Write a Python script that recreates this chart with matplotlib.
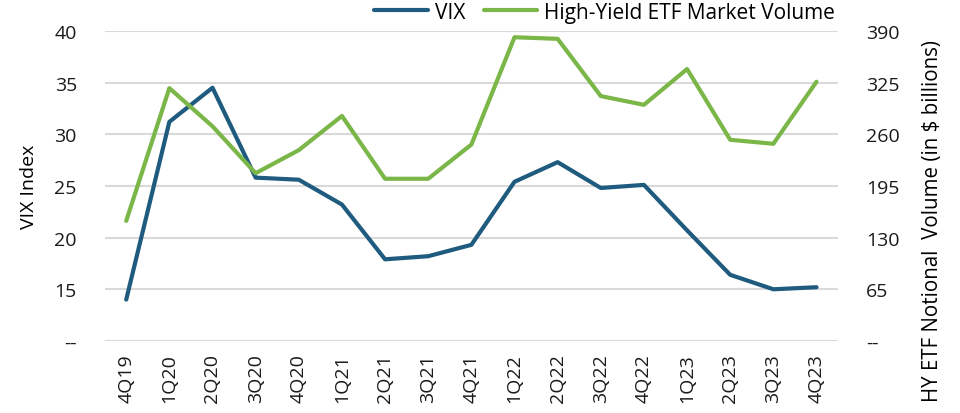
import numpy as np
import matplotlib.pyplot as plt
plt.switch_backend('agg')

plt.rcParams['font.family'] = ['Open Sans', 'DejaVu Sans']
plt.rcParams['font.size'] = 14

quarters = ['4Q19', '1Q20', '2Q20', '3Q20', '4Q20', '1Q21', '2Q21', '3Q21', '4Q21',
            '1Q22', '2Q22', '3Q22', '4Q22', '1Q23', '2Q23', '3Q23', '4Q23']
vix = [14.0, 31.2, 34.5, 25.8, 25.6, 23.2, 17.9, 18.2, 19.3,
       25.4, 27.3, 24.8, 25.1, 20.7, 16.4, 15.0, 15.2]
hy_volume = [151, 318, 270, 211, 240, 283, 204, 204, 247,
             382, 380, 308, 297, 342, 253, 248, 326]

left_ticks = [10, 15, 20, 25, 30, 35, 40]
left_labels = ['--', '15', '20', '25', '30', '35', '40']
right_ticks = [0, 65, 130, 195, 260, 325, 390]
right_labels = ['--', '65', '130', '195', '260', '325', '390']

blue = '#1F5B7E'
green = '#7AB648'
grid_color = '#D9D9D9'

fig = plt.figure(figsize=(9.6, 4.14), dpi=100)
ax = fig.add_axes([0.109, 0.174, 0.764, 0.749])
ax2 = ax.twinx()

x = np.arange(len(quarters))
l1, = ax.plot(x, vix, color=blue, linewidth=3, solid_capstyle='round', label='VIX', zorder=3)
l2, = ax2.plot(x, hy_volume, color=green, linewidth=3, solid_capstyle='round',
               label='High-Yield ETF Market Volume')

ax.set_xlim(-0.5, len(quarters) - 0.5)
ax.set_ylim(10, 40)
ax2.set_ylim(0, 390)
ax.set_yticks(left_ticks)
ax.set_yticklabels(left_labels)
ax2.set_yticks(right_ticks)
ax2.set_yticklabels(right_labels)
ax.set_xticks(x)
ax.set_xticklabels(quarters, rotation=90)

ax.grid(axis='y', color=grid_color, linewidth=1.5)
ax.set_axisbelow(True)
for a in (ax, ax2):
    for s in a.spines.values():
        s.set_visible(False)
    a.tick_params(length=0, colors='#1a1a1a')
ax.tick_params(axis='y', pad=20)
ax2.tick_params(axis='y', pad=20)
ax.tick_params(axis='x', pad=9)

ax.set_ylabel('VIX Index', labelpad=12, fontsize=14)
ax2.set_ylabel('HY ETF Notional  Volume (in $ billions)', fontsize=14.8)
# label sits lower than centre in the original
ax2.yaxis.set_label_coords(1.115, 0.39)

fig.legend(handles=[l1, l2], loc='center', bbox_to_anchor=(0.63, 0.968), ncol=2,
           frameon=False, handlelength=2.55, handletextpad=0.35, columnspacing=0.9,
           fontsize=15, borderpad=0.1)

fig.savefig('out.png', dpi=100)
